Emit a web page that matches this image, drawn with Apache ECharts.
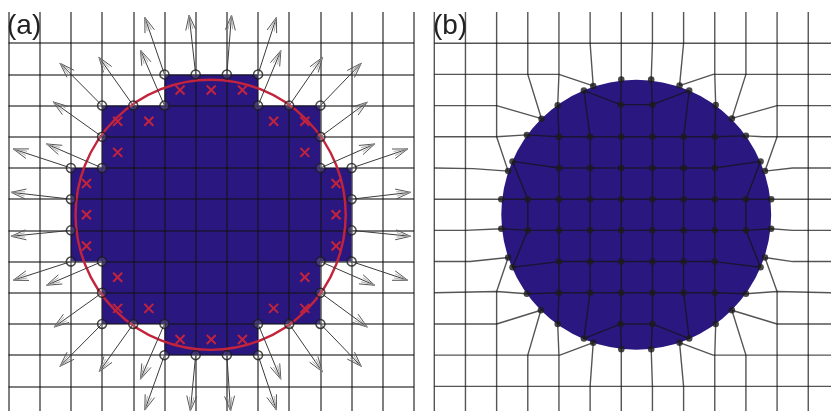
<!DOCTYPE html>
<html><head><meta charset="utf-8">
<script src="https://cdn.jsdelivr.net/npm/echarts@6/dist/echarts.min.js"></script>
<style>html,body{margin:0;padding:0;background:#fff}#c{width:831px;height:411px}</style>
</head><body><div id="c"></div>
<script>
// All values are in mesh-cell units: [column, row]. null = break in a mesh line (along the circle's edge).
const panelLabels = ['(a)', '(b)'];
const circleCentre = [6.48, 6.5];
const circleRadius = 4.33;
const staircase = [[5,2],[8,2],[8,3],[10,3],[10,5],[11,5],[11,8],[10,8],[10,10],[8,10],[8,11],[5,11],[5,10],[3,10],[3,8],[2,8],[2,5],[3,5],[3,3],[5,3]];
const crosses = [[2.5,5.5],[2.5,6.5],[2.5,7.5],[3.5,3.5],[3.5,4.5],[3.5,8.5],[3.5,9.5],[4.5,3.5],[4.5,9.5],[5.5,2.5],[6.5,2.5],[7.5,2.5],[5.5,10.5],[6.5,10.5],[7.5,10.5],[8.5,3.5],[9.5,3.5],[9.5,4.5],[8.5,9.5],[9.5,9.5],[9.5,8.5],[10.5,5.5],[10.5,6.5],[10.5,7.5]];
// column, row, tip column, tip row
const arrows = [
 [6,2,5.79,0.10],[5,2,4.37,0.17],[5,3,4.23,1.22],[4,3,2.90,1.45],[3,3,1.65,1.64],[3,4,1.43,2.88],[3,5,1.22,4.23],[2,5,0.15,4.39],[2,6,0.08,5.78],
 [7,2,7.15,0.10],[8,2,8.59,0.17],[8,3,8.73,1.24],[9,3,10.07,1.45],[10,3,11.31,1.64],[10,4,11.50,2.89],[10,5,11.74,4.23],[11,5,12.80,4.39],[11,6,12.89,5.78],
 [2,7,0.08,7.19],[2,8,0.15,8.60],[3,8,1.22,8.76],[3,9,1.46,10.10],[3,10,1.65,11.36],[4,10,2.91,11.53],[5,10,4.23,11.77],[5,11,4.37,12.76],[6,11,5.83,12.79],
 [7,11,7.12,12.79],[8,11,8.59,12.76],[8,10,8.73,11.77],[9,10,10.06,11.53],[10,10,11.31,11.36],[10,9,11.50,10.10],[10,8,11.74,8.76],[11,8,12.80,8.60],[11,7,12.89,7.19]
];
const meshRows = [
 [[0,1],[12.73,1]],
 [[0,2],[4,2],[5.1,2.37],null,[7.87,2.36],[8.95,2],[12.73,2]],
 [[0,3],[2,3],[3.44,3.42],null,[4.8,2.52],[5.98,2.97],[7,2.97],[8.18,2.52],null,[9.55,3.41],[11,3],[12.73,3]],
 [[0,4],[2,4],[2.97,3.94],[4,4],[9,4],[10,3.97],[10.55,4],[12.73,4]],
 [[0,5],[1.25,5.02],[2.37,5.1],null,[2.51,4.79],[4,5],[9,5],[10.47,4.79],null,[10.61,5.1],[11.5,5],[12.73,5]],
 [[0,6],[2.15,6],[10.81,6],[12.73,6]],
 [[0,7],[1,7],[2.15,6.95],[3,7],[10,7],[10.81,6.95],[11.5,7],[12.73,7]],
 [[0,8],[1.15,8],[2.37,7.87],null,[2.51,8.18],[4,8],[9,8],[10.47,8.18],null,[10.61,7.87],[11.5,8],[12.73,8]],
 [[0,9],[2,8.96],[2.97,9.03],[4,9],[9,9],[10,9.03],[11,8.96],[12.73,9]],
 [[0,10],[2,10],[3.42,9.56],null,[4.8,10.47],[5.98,10],[7,10],[8.18,10.47],null,[9.55,9.56],[11,10],[12.73,10]],
 [[0,11],[4.03,11],[5.1,10.6],null,[7.87,10.6],[8.95,11],[12.73,11]],
 [[0,12],[12.73,12]]
];
const meshCols = [
 [[0,0],[0,12.79]],
 [[1,0],[1,12.79]],
 [[2,0],[2,4],[2.37,5.1],null,[2.37,7.87],[2,8.96],[2,12.79]],
 [[3,0],[3,2],[3.44,3.42],null,[2.51,4.79],[3,6],[3,7],[2.51,8.18],null,[3.42,9.56],[3,11],[3,12.79]],
 [[4,0],[4,2],[3.96,2.99],[4,4],[4,9],[3.96,10],[4,11],[4,12.79]],
 [[5,0],[5,1],[5.1,2.37],null,[4.8,2.52],[5,4],[5,9],[4.8,10.47],null,[5.1,10.6],[5,12],[5,12.79]],
 [[6,0],[6,1],[6,2.16],[5.98,2.97],[6,4],[6,9],[5.98,10],[6,10.81],[6,12],[6,12.79]],
 [[7,0],[7,1],[6.96,2.16],[7,2.97],[7,9],[7,10],[6.96,10.81],[7,12],[7,12.79]],
 [[8,0],[8,1],[7.87,2.36],null,[8.18,2.52],[8,4],[8,9],[8.18,10.47],null,[7.87,10.6],[8,12],[8,12.79]],
 [[9,0],[9,2],[9.03,2.98],[9,4],[9,9],[9.03,10],[9,11],[9,12.79]],
 [[10,0],[10,2],[9.55,3.41],null,[10.47,4.79],[10,6],[10,7],[10.47,8.18],null,[9.55,9.56],[10,11],[10,12.79]],
 [[11,0],[11,4],[10.61,5.1],null,[10.61,7.87],[11,8.96],[11,12.79]],
 [[12,0],[12,12.79]]
];
const meshDots = [
 [5.1,2.37],[6,2.16],[6.96,2.16],[7.87,2.36],
 [3.96,2.99],[3.44,3.42],[4.8,2.52],[5.98,2.97],[7,2.97],[8.18,2.52],[9.03,2.98],[9.55,3.41],
 [2.97,3.94],[4,4],[5,4],[6,4],[7,4],[8,4],[9,4],[10,3.97],
 [2.37,5.1],[2.51,4.79],[4,5],[5,5],[6,5],[7,5],[8,5],[9,5],[10.47,4.79],[10.61,5.1],
 [2.15,6],[3,6],[4,6],[5,6],[6,6],[7,6],[8,6],[9,6],[10,6],[10.81,6],
 [2.15,6.95],[3,7],[4,7],[5,7],[6,7],[7,7],[8,7],[9,7],[10,7],[10.81,6.95],
 [2.37,7.87],[2.51,8.18],[4,8],[5,8],[6,8],[7,8],[8,8],[9,8],[10.47,8.18],[10.61,7.87],
 [2.97,9.03],[4,9],[5,9],[6,9],[7,9],[8,9],[9,9],[10,9.03],
 [3.42,9.56],[3.96,10],[4.8,10.47],[5.98,10],[7,10],[8.18,10.47],[9.03,10],[9.55,9.56],
 [5.1,10.6],[6,10.81],[6.96,10.81],[7.87,10.6]
];

const BLUE = '#2a1880', RED = '#c4233c', MESH = 'rgba(20,20,20,0.72)';
const hiddenAxis = {axisLine:{show:false},axisTick:{show:false},axisLabel:{show:false}};
function circleItem(color, stroke){
  return function(p, api){
    const c = api.coord(circleCentre), s = api.size([circleRadius, circleRadius]);
    return {type:'circle', shape:{cx:c[0], cy:c[1], r:s[0]},
      style: stroke ? {fill:'none', stroke:color, lineWidth:2.4} : {fill:color}};
  };
}
function arrowItem(p, api){
  const a = api.coord([api.value(0), api.value(1)]), t = api.coord([api.value(2), api.value(3)]);
  const d = Math.hypot(t[0]-a[0], t[1]-a[1]), ux = (t[0]-a[0])/d, uy = (t[1]-a[1])/d;
  const back = (l, w) => [t[0]-ux*l-uy*w, t[1]-uy*l+ux*w];
  return {type:'group', children:[
    {type:'line', shape:{x1:a[0],y1:a[1],x2:t[0],y2:t[1]}, style:{stroke:'#3c3c3c',lineWidth:1}},
    {type:'polyline', shape:{points:[back(15,5),t,back(15,-5)]}, style:{fill:'none',stroke:'#555',lineWidth:1}},
    {type:'polyline', shape:{points:[back(14,2.2),t,back(14,-2.2)]}, style:{fill:'none',stroke:'#999',lineWidth:0.8}}
  ]};
}
function crossItem(p, api){
  const c = api.coord([api.value(0), api.value(1)]), h = 4.5;
  return {type:'group', children:[
    {type:'line', shape:{x1:c[0]-h,y1:c[1]-h,x2:c[0]+h,y2:c[1]+h}, style:{stroke:RED,lineWidth:2}},
    {type:'line', shape:{x1:c[0]-h,y1:c[1]+h,x2:c[0]+h,y2:c[1]-h}, style:{stroke:RED,lineWidth:2}}
  ]};
}
function polyItem(p, api){
  if (p.dataIndex !== 0) return null;
  return {type:'polygon', shape:{points:staircase.map(q => api.coord(q))}, style:{fill:BLUE}};
}
function pieces(line){
  const out = [[]];
  line.forEach(p => { if (p === null) out.push([]); else out[out.length-1].push(p); });
  return out;
}
const series = [
  {type:'custom', xAxisIndex:0, yAxisIndex:0, z:-1, silent:true, data:staircase, renderItem:polyItem, encode:{x:0,y:1}},
  {type:'custom', xAxisIndex:0, yAxisIndex:0, z:3, silent:true, data:[circleCentre], renderItem:circleItem(RED,true), encode:{x:0,y:1}},
  {type:'custom', xAxisIndex:0, yAxisIndex:0, z:4, silent:true, data:crosses, renderItem:crossItem, encode:{x:0,y:1}},
  {type:'custom', xAxisIndex:0, yAxisIndex:0, z:5, silent:true, data:arrows, renderItem:arrowItem, encode:{x:[0,2],y:[1,3]}},
  {type:'scatter', xAxisIndex:0, yAxisIndex:0, z:6, silent:true, symbol:'circle', symbolSize:9,
    itemStyle:{color:'rgba(255,255,255,0.18)',borderColor:'#1c1c1c',borderWidth:1.5}, data:arrows.map(a => [a[0],a[1]])},
  {type:'custom', xAxisIndex:1, yAxisIndex:1, z:1, silent:true, data:[circleCentre], renderItem:circleItem(BLUE,false), encode:{x:0,y:1}}
];
meshRows.concat(meshCols).forEach(l => pieces(l).forEach(piece => series.push({
  type:'line', xAxisIndex:1, yAxisIndex:1, z:3, silent:true, symbol:'none', animation:false,
  lineStyle:{color:MESH,width:1.4}, data:piece})));
series.push({type:'scatter', xAxisIndex:1, yAxisIndex:1, z:5, silent:true, symbolSize:6.5, itemStyle:{color:'#1c1c1c'}, data:meshDots});

const chart = echarts.init(document.getElementById('c'), null, {renderer:'canvas'});
chart.setOption({
  animation:false, backgroundColor:'#fff',
  title:[
    {text:panelLabels[0], left:7, top:12, padding:0, textStyle:{fontFamily:'Liberation Sans',fontSize:28,fontWeight:'normal',color:'#222'}},
    {text:panelLabels[1], left:433, top:12, padding:0, textStyle:{fontFamily:'Liberation Sans',fontSize:28,fontWeight:'normal',color:'#222'}}
  ],
  grid:[
    {left:8.5, top:12, width:405.5, height:399},
    {left:434.3, top:12, width:396.7, height:399}
  ],
  xAxis:[
    Object.assign({gridIndex:0,type:'value',min:0,max:13,interval:1,splitLine:{show:true,lineStyle:{color:MESH,width:1.5}}},hiddenAxis),
    Object.assign({gridIndex:1,type:'value',min:0,max:12.73,interval:1,splitLine:{show:false}},hiddenAxis)
  ],
  yAxis:[
    Object.assign({gridIndex:0,type:'value',inverse:true,min:0,max:12.79,interval:1,splitLine:{show:true,showMinLine:false,showMaxLine:false,lineStyle:{color:MESH,width:1.5}}},hiddenAxis),
    Object.assign({gridIndex:1,type:'value',inverse:true,min:0,max:12.79,interval:1,splitLine:{show:false}},hiddenAxis)
  ],
  series
});
</script></body></html>
